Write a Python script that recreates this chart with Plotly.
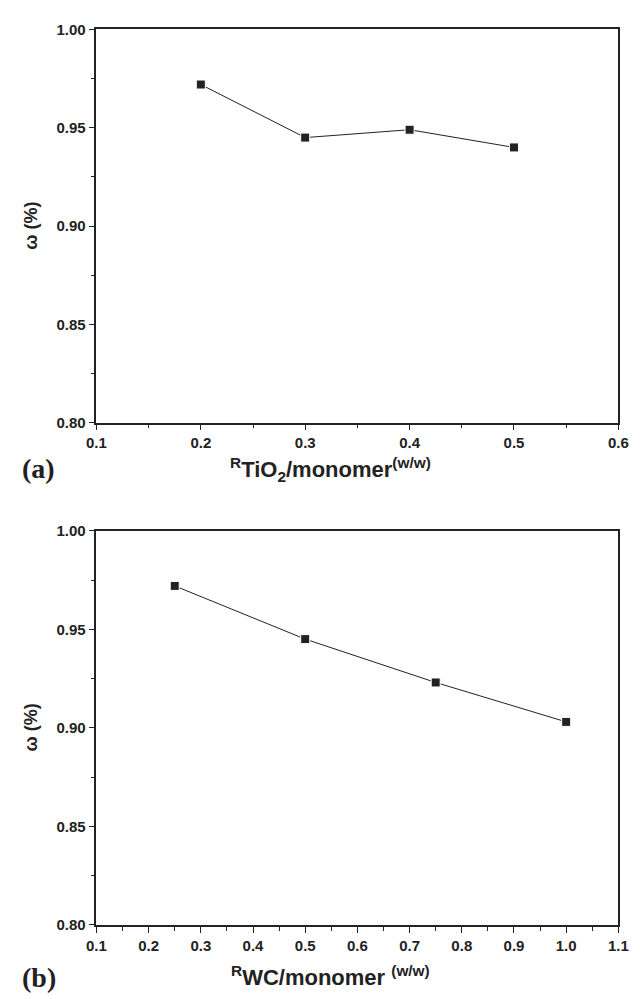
import plotly.graph_objects as go

# Panel (a)
ratio_tio2 = [0.2, 0.3, 0.4, 0.5]
omega_tio2 = [0.972, 0.945, 0.949, 0.940]
# Panel (b)
ratio_wc = [0.25, 0.5, 0.75, 1.0]
omega_wc = [0.972, 0.945, 0.923, 0.903]

y_ticks = [0.80, 0.85, 0.90, 0.95, 1.00]
x_ticks_a = [0.1, 0.2, 0.3, 0.4, 0.5, 0.6]
x_ticks_b = [0.1, 0.2, 0.3, 0.4, 0.5, 0.6, 0.7, 0.8, 0.9, 1.0, 1.1]

# The page body has an 8px default margin; size the figure so it fits the
# 640x999 window exactly, and express positions in window pixels.
OFF = 8
W, H = 640 - OFF, 999 - OFF
def px(X):
    return (X - OFF) / W
def py(Y):
    return 1 - (Y - OFF) / H

INK = "#222222"
TICKFONT = dict(family="Liberation Sans Narrow, Liberation Sans, Arial", size=15, color=INK, weight="bold")

fig = go.Figure()

fig.add_trace(go.Scatter(
    x=ratio_tio2, y=omega_tio2, mode="lines+markers", xaxis="x", yaxis="y",
    line=dict(color=INK, width=1),
    marker=dict(symbol="square", size=9, color=INK, line=dict(color="white", width=1)),
    showlegend=False))
fig.add_trace(go.Scatter(
    x=ratio_wc, y=omega_wc, mode="lines+markers", xaxis="x2", yaxis="y2",
    line=dict(color=INK, width=1),
    marker=dict(symbol="square", size=9, color=INK, line=dict(color="white", width=1)),
    showlegend=False))

xdom = [px(89), px(628)]
ydom_a = [py(420.7), py(20.7)]
ydom_b = [py(931.7), py(530.7)]

def xaxis(dom, anchor, rng, ticks, fmt):
    return dict(domain=dom, anchor=anchor, range=rng, tickvals=ticks,
                ticktext=[fmt.format(t) for t in ticks],
                showline=True, linecolor=INK, linewidth=1.5, mirror=True,
                ticks="outside", ticklen=6, tickwidth=1.2, tickcolor=INK,
                minor=dict(dtick=0.05, ticks="outside", ticklen=4, tickwidth=1.2, tickcolor=INK, showgrid=False),
                showgrid=False, zeroline=False, tickfont=TICKFONT, fixedrange=True)

def yaxis(dom, anchor):
    return dict(domain=dom, anchor=anchor, range=[0.80, 1.00], tickvals=y_ticks,
                ticktext=["{:.2f}".format(t) for t in y_ticks],
                showline=True, linecolor=INK, linewidth=1.5, mirror=True,
                ticks="outside", ticklen=6, tickwidth=1.2, tickcolor=INK,
                minor=dict(dtick=0.025, ticks="outside", ticklen=4, tickwidth=1.2, tickcolor=INK, showgrid=False),
                showgrid=False, zeroline=False, tickfont=TICKFONT, fixedrange=True)

fig.update_layout(
    width=W, height=H,
    margin=dict(l=0, r=0, t=0, b=0),
    paper_bgcolor="white", plot_bgcolor="white",
    xaxis=xaxis(xdom, "y", [0.1, 0.6], x_ticks_a, "{:.1f}"),
    yaxis=yaxis(ydom_a, "x"),
    xaxis2=xaxis(xdom, "y2", [0.1, 1.1], x_ticks_b, "{:.1f}"),
    yaxis2=yaxis(ydom_b, "x2"),
)

TITLEFONT = dict(family="Liberation Sans, Arial", size=22, color=INK, weight="bold")
ann = []
# y titles
for ymid in [(20.7 + 420.7) / 2, (530.7 + 931.7) / 2]:
    ann.append(dict(x=px(21), y=py(ymid), xref="paper", yref="paper",
                    text="ω (%)", textangle=-90, showarrow=False,
                    font=dict(family="Liberation Sans, Arial", size=18, color=INK, weight="bold"),
                    xanchor="center", yanchor="middle"))
# x titles
ann.append(dict(x=px(331), y=py(468), xref="paper", yref="paper",
                text="<sup>R</sup>TiO<sub>2</sub>/monomer<sup>(w/w)</sup>", showarrow=False,
                font=TITLEFONT, xanchor="center", yanchor="middle"))
ann.append(dict(x=px(331), y=py(984), xref="paper", yref="paper",
                text="<sup>R</sup>WC/monomer <sup>(w/w)</sup>", showarrow=False,
                font=TITLEFONT, xanchor="center", yanchor="middle"))
# panel labels
for lab, yc in [("(a)", 467), ("(b)", 985)]:
    ann.append(dict(x=px(10), y=py(yc), xref="paper", yref="paper",
                    text=lab, showarrow=False,
                    font=dict(family="Liberation Serif, Times New Roman", size=28, color=INK, weight="bold"),
                    xanchor="left", yanchor="middle"))
fig.update_layout(annotations=ann)

fig.write_html("out.html", config={"displayModeBar": False})
